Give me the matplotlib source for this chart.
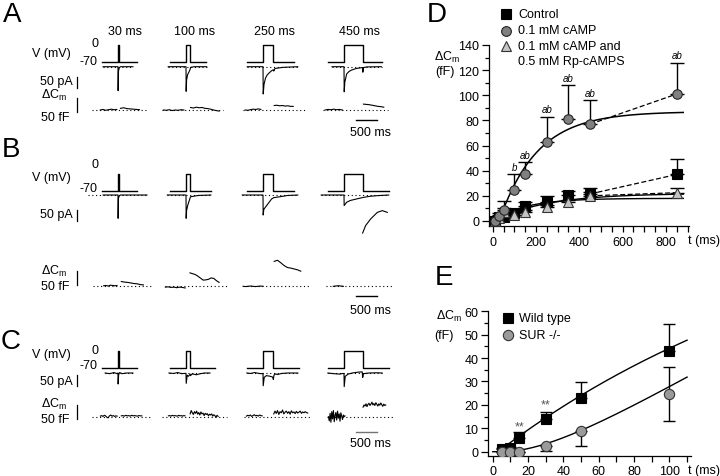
import numpy as np
import matplotlib.pyplot as plt
from matplotlib.ticker import MultipleLocator, FuncFormatter

plt.rcParams['font.family'] = ['Liberation Sans', 'DejaVu Sans']
plt.rcParams['mathtext.fontset'] = 'custom'
plt.rcParams['mathtext.rm'] = 'Liberation Sans'
plt.rcParams['mathtext.it'] = 'Liberation Sans:italic'

# ---------------- panels A-C: example traces (t in ms from pulse onset) ----------------
pulse_ms = [30, 100, 250, 450]
pulse_labels = ['30 ms', '100 ms', '250 ms', '450 ms']
v_hold, v_step = -70, 0

# membrane current (t ms, I pA)
current_A = [
    ([-360, 0, 3, 12, 30, 60, 360], [0, 0, -109, -20, -5, 0, 0]),
    ([-430, 0, 4, 15, 40, 70, 100, 110, 200, 500], [0, 0, -112, -60, -35, -25, -12, -3, 0, 0]),
    ([-380, 0, 5, 25, 60, 100, 150, 210, 250, 260, 290, 480, 840],
     [0, 0, -124, -80, -52, -38, -28, -18, -14, -20, -8, -3, 0]),
    ([-290, 0, 5, 20, 64, 120, 184, 300, 440, 450, 455, 470, 550, 900],
     [0, 0, -114, -70, -33, -22, -15, -8, -4, -4, -25, -4, -1, 0]),
]
current_B = [
    ([-360, 0, 3, 12, 30, 60, 700], [0, 0, -106, -15, -4, 0, 0]),
    ([-450, 0, 4, 15, 40, 96, 110, 300, 600], [0, 0, -106, -70, -48, -15, -8, -2, 0]),
    ([-500, 0, 4, 20, 88, 208, 260, 408, 600, 840], [0, 0, -91, -65, -48, -18, -12, -8, -2, 0]),
    ([-550, 0, 4, 64, 150, 304, 464, 624, 800, 1080], [0, 0, -48, -33, -25, -18, -11, -6, -3, 0]),
]
current_B_extra_t = [450, 522, 643, 805, 926, 1046]
current_B_extra_i = [-173, -139, -109, -79, -71, -79]
current_C = [
    ([-310, -200, -100, -20, 0, 3, 15, 40, 100, 200, 360], [0, -3, 2, -3, 0, -50, -8, 2, -3, 0, 0]),
    ([-410, -300, -200, -100, -50, 0, 5, 30, 60, 100, 110, 150, 250, 350, 450, 580],
     [0, -2, 2, -3, -2, -2, -47, -10, -15, -5, -12, -4, -8, -3, 0, 0]),
    ([-390, -300, -200, -100, -30, 0, 5, 30, 80, 150, 230, 250, 265, 300, 350, 450, 600, 840],
     [0, -2, 2, -2, -3, -2, -58, -20, -12, -14, -18, -30, -10, -4, -7, -2, 0, 0]),
    ([-390, -250, -100, -30, 0, 5, 30, 100, 200, 350, 440, 452, 470, 600, 800, 920],
     [0, -3, -5, -2, -3, -62, -15, -5, 0, 4, 5, -20, -3, 0, 1, 0]),
]

# capacitance change (t_start, t_end, fF samples) before and after the pulse
cm_A = [
    ((-430, -30, [0, 2, -1, 1, 3, 1, 2]), (60, 520, [6, 8, 5, 4, 3, 2, 1])),
    ((-545, -50, [0, -1, 1, -2, 0, -1, 1, 0]), (110, 800, [9, 7, 10, 8, 9, 6, 5, 3, 0, -2, -4])),
    ((-430, -50, [0, -1, 1, 3, 2, 4, 2]), (270, 730, [16, 17, 15, 16, 14, 15, 13, 13])),
    ((-456, -40, [0, 2, 1, 3, 1, 2, 0]), (470, 960, [21, 20, 19, 17, 15, 13, 12, 10])),
]
cm_B = [
    ((-346, -24, [2, 3, 1, 4, 3, 2, 3]), (80, 614, [17, 15, 14, 12, 10, 9, 6, 5])),
    ((-500, -20, [-3, -2, -4, -3, -5, -3, -4, -6]),
     (96, 800, [48, 45, 42, 36, 29, 22, 23, 25, 30, 28, 20, 14])),
    ((-480, 0, [0, -1, 0, 1, 0, -1, 0, 1, 0]), (270, 912, [89, 93, 84, 74, 67, 65, 62, 59, 54])),
    ((-260, -16, [0, 1, 2, 1, 0]), None),
]
cm_C = [
    ((-425, -20, [2, 4, 1, 5, 3, -2, -4, 3, 6, 2, 4, 1, 3, 2]),
     (80, 576, [3, 4, 2, 5, 3, 4, 2, 5, 3, 4, 3, 2, 4, 3, 3])),
    ((-425, -24, [3, 4, 2, 5, 3, 4, 3, 2, 5, 3, 4, 2, 4, 3]),
     (100, 776, [10, 22, 14, 8, 18, 12, 20, 9, 15, 6, 17, 10, 13, 4, 12, 8, 11, 3, 9, 6, 10, 2, 7, 4, -2, 5, 1])),
    ((-400, -20, [2, 5, 3, 6, 1, 4, 7, 3, 5, 2, 6, 4, 3]),
     (260, 1080, [10, 20, 12, 22, 8, 18, 14, 24, 10, 16, 20, 12, 18, 9, 21, 14, 17, 11, 19, 13, 16, 20, 12, 17, 14, 18, 15, 13])),
    ((-376, 24, [0, -15, 12, -20, 18, -8, 22, -18, 5, 15, -12, 20, -5, 10, -16, 14, 2, -10, 6, 0, 3]),
     (460, 1008, [34, 42, 38, 46, 36, 44, 48, 40, 45, 52, 42, 47, 40, 50, 44, 38, 46, 41, 49, 43, 37, 45, 40, 42])),
]

# ---------------- panel D ----------------
d_t = [10, 30, 50, 100, 150, 250, 350, 450, 850]
d_control = [0, 3, 3, 6, 12, 15, 21, 21.5, 37]
d_control_err = [1, 2, 3, 3, 3, 5, 3, 4.5, 12.5]
d_camp = [0, 4, 9, 25, 37, 63, 81, 77, 101]
d_camp_err = [1, 2, 7, 12, 10, 20, 27, 19, 25]
d_camp_sig = ['', '', '', 'b', 'ab', 'ab', 'ab', 'ab', 'ab']
d_rp = [0, 2, 7, 5, 7, 11, 15, 20, 22.5]
d_rp_err = [1, 1, 3, 2, 2, 2, 2, 3, 3.5]
# exponential fits: amplitude (fF), delay (ms), tau (ms)
fit_camp = (87, 30, 175)
fit_control = (18, 0, 150)
fit_rp = (22, 0, 250)

# ---------------- panel E ----------------
e_t = [5, 10, 15, 30, 50, 100]
e_wt = [1, 1.5, 5.7, 14, 22.8, 43.2]
e_wt_err = [0.5, 0.5, 2.6, 3, 7.1, 11.4]
e_sur = [0, 0, 0, 2.5, 9, 24.5]
e_sur_err_lo = [0.3, 0.3, 0.3, 2, 6.7, 11.5]
e_sur_err_hi = [0, 0, 0, 0, 0, 11.5]
e_stars_t = [15, 30]
e_stars_y = [11, 20.4]
fit_wt = (115, 3, 200)         # amplitude, delay, tau (saturating)
fit_sur = (0.42, 5, 30)        # slope, delay, tau (ramp with lag)

# ---------------- scales / layout (pixels) ----------------
PX_MS = 20.7 / 500
PX_MV = 17 / 70
PX_PA = 11 / 50
PX_FF = 14 / 50
X_ONSET = [118, 186, 263, 344]
V_PRE = -16

LAYOUT = {
    'A': dict(letter=(12, 15), v_base=62.7, i_base=67.7, cm_base=111,
              v_end=[19, 20, 31, 38], i_dots=[(-15, 15), (-18, 21), (-16, 35), (-12, 38)],
              cm_dots=[(-26, 30), (-24, 37), (-20, 42), (-21, 44)],
              v_lab=54, zero_lab=44, m70_lab=62, pa_lab=82, pa_bar=83.5,
              dcm_lab=95, ff_lab=118, ff_bar=106, sb_y=121, sb_lab=133, sb_col='k'),
    'B': dict(letter=(11, 150), v_base=191.7, i_base=196, cm_base=287.3,
              v_end=[19, 25, 31, 45], i_dots=[(-30, 29), (-19, 25), (-21, 35), (-23, 45)],
              cm_dots=[(-25, 34), (-21, 41), (-20, 47), (-18, 49)],
              v_lab=178, zero_lab=165, m70_lab=189, pa_lab=215, pa_bar=216,
              dcm_lab=271, ff_lab=287, ff_bar=279, sb_y=296.7, sb_lab=311, sb_col='k'),
    'C': dict(letter=(11, 342), v_base=369, i_base=374, cm_base=417.7,
              v_end=[19, 29, 36, 45], i_dots=[(-13, 15), (-17, 24), (-16, 35), (-16, 38)],
              cm_dots=[(-26, 32), (-24, 41), (-19, 47), (-17, 49)],
              v_lab=355, zero_lab=351, m70_lab=366, pa_lab=381.7, pa_bar=381.7,
              dcm_lab=404, ff_lab=420, ff_bar=413, sb_y=432.7, sb_lab=444, sb_col='0.45'),
}
TRACES = {'A': (current_A, cm_A), 'B': (current_B, cm_B), 'C': (current_C, cm_C)}

FS = 9
DCM = 'ΔC$_\\mathregular{m}$'
DOTS = (0, (1.0, 2.4))

fig = plt.figure(figsize=(7.2, 4.77), dpi=100)
cv = fig.add_axes([0, 0, 1, 1])
cv.set_xlim(0, 720)
cv.set_ylim(477, 0)
cv.axis('off')


def xpos(col, t):
    return X_ONSET[col] + np.asarray(t, float) * PX_MS


for name, lay in LAYOUT.items():
    currents, cms = TRACES[name]
    cv.text(*lay['letter'], name, fontsize=20, ha='center', va='center')
    # left-hand labels and scale bars
    cv.text(71, lay['v_lab'], 'V (mV)', fontsize=FS, ha='right', va='center')
    cv.text(95, lay['zero_lab'], '0', fontsize=FS, ha='center', va='center')
    cv.text(98, lay['m70_lab'], '-70', fontsize=FS, ha='right', va='center')
    cv.text(73, lay['pa_lab'], '50 pA', fontsize=FS, ha='right', va='center')
    cv.plot([77, 77], [lay['pa_bar'] - 25 * PX_PA, lay['pa_bar'] + 25 * PX_PA], color='k', lw=0.9)
    cv.text(54, lay['dcm_lab'], DCM, fontsize=FS, ha='center', va='center')
    cv.text(55, lay['ff_lab'], '50 fF', fontsize=FS, ha='center', va='center')
    cv.plot([77, 77], [lay['ff_bar'] - 25 * PX_FF, lay['ff_bar'] + 25 * PX_FF], color='k', lw=0.9)
    cv.plot([356, 356 + 500 * PX_MS], [lay['sb_y']] * 2, color=lay['sb_col'], lw=1.0)
    cv.text(370, lay['sb_lab'], '500 ms', fontsize=FS, ha='center', va='center')

    for c, dur in enumerate(pulse_ms):
        x0 = X_ONSET[c]
        # voltage protocol
        vx = [x0 + V_PRE, x0, x0, xpos(c, dur), xpos(c, dur), x0 + lay['v_end'][c]]
        vv = np.array([v_hold, v_hold, v_step, v_step, v_hold, v_hold])
        cv.plot(vx, lay['v_base'] - (vv - v_hold) * PX_MV, color='k', lw=1.0)
        # current
        a, b = lay['i_dots'][c]
        cv.plot([x0 + a, x0 + b], [lay['i_base']] * 2, color='k', lw=0.8, ls=DOTS)
        ti, ii = currents[c]
        cv.plot(xpos(c, ti), lay['i_base'] - np.asarray(ii, float) * PX_PA, color='k', lw=0.8)
        # capacitance
        a, b = lay['cm_dots'][c]
        cv.plot([x0 + a, x0 + b], [lay['cm_base']] * 2, color='k', lw=0.8, ls=DOTS)
        for seg in cms[c]:
            if seg is None:
                continue
            t0, t1, vals = seg
            tt = np.linspace(t0, t1, len(vals))
            cv.plot(xpos(c, tt), lay['cm_base'] - np.asarray(vals, float) * PX_FF, color='k', lw=0.8)
        if name == 'B' and c == 3:
            cv.plot(xpos(c, current_B_extra_t),
                    lay['i_base'] - np.asarray(current_B_extra_i, float) * PX_PA, color='k', lw=0.8)

for c, lab in enumerate(pulse_labels):
    cv.text(xpos(c, pulse_ms[c] / 2) + 6, 32, lab, fontsize=FS, ha='center', va='center')

# ---------------- panel D ----------------
SQ = dict(marker='s', mfc='k', mec='k')
CI = dict(marker='o', mfc='#808080', mec='#222222')
TR = dict(marker='^', mfc='#c4c4c4', mec='#333333')

axD = fig.add_axes([489 / 720, 1 - 227 / 477, 199.7 / 720, 182.3 / 477])
axD.set_facecolor('none')
axD.set_xlim(-17, 905)
axD.set_ylim(-4, 141)

tt = np.linspace(0, 880, 300)
for (amp, t0, tau) in (fit_control, fit_rp):
    axD.plot(tt, amp * (1 - np.exp(-(tt - t0) / tau)), color='k', lw=1.0, zorder=2)
tc = np.linspace(fit_camp[1], 880, 300)
axD.plot(tc, fit_camp[0] * (1 - np.exp(-(tc - fit_camp[1]) / fit_camp[2])), color='k', lw=1.1, zorder=2)
for ys in (d_camp, d_control, d_rp):
    axD.plot([d_t[-2], d_t[-1]], [ys[-2], ys[-1]], color='k', lw=0.9, ls=(0, (4, 2)), zorder=2)

zero = [0] * len(d_t)
for ys, err, st in ((d_control, d_control_err, SQ), (d_rp, d_rp_err, TR), (d_camp, d_camp_err, CI)):
    axD.errorbar(d_t, ys, yerr=[zero, err], fmt='none', ecolor='k', elinewidth=1.0, capsize=5,
                 capthick=1.0, zorder=3)
    axD.plot(d_t, ys, ls='none', ms=6.8, mew=0.8, zorder=4, **st)
for t, y, e, s in zip(d_t, d_camp, d_camp_err, d_camp_sig):
    if s:
        axD.text(t, y + e + 5.8, s, fontsize=7, style='italic', ha='center', va='center')

for sp in ('top', 'right'):
    axD.spines[sp].set_visible(False)
axD.spines['left'].set_bounds(-4, 140)
axD.xaxis.set_major_locator(MultipleLocator(50))
axD.xaxis.set_major_formatter(FuncFormatter(lambda v, p: f'{v:.0f}' if v % 200 == 0 and v <= 800 else ''))
axD.yaxis.set_major_locator(MultipleLocator(20))
axD.yaxis.set_minor_locator(MultipleLocator(10))
axD.tick_params(axis='x', length=4, width=0.9, pad=3, labelsize=FS)
axD.tick_params(axis='y', which='major', length=5, width=0.9, pad=2, labelsize=FS)
axD.tick_params(axis='y', which='minor', length=3, width=0.9)
for sp in axD.spines.values():
    sp.set_linewidth(0.9)

cv.text(447, 57, DCM, fontsize=FS, ha='center', va='center')
cv.text(445, 72, '(fF)', fontsize=FS, ha='center', va='center')
cv.text(688, 241, 't (ms)', fontsize=FS, ha='left', va='center')
cv.text(437, 15, 'D', fontsize=20, ha='center', va='center')
for st, y in ((SQ, 15), (CI, 32), (TR, 47)):
    cv.plot([506], [y], ls='none', ms=7, mew=0.8, **st)
for txt, y in (('Control', 15), ('0.1 mM cAMP', 31), ('0.1 mM cAMP and', 47), ('0.5 mM Rp-cAMPS', 62)):
    cv.text(518, y, txt, fontsize=FS, ha='left', va='center')

# ---------------- panel E ----------------
CI_E = dict(marker='o', mfc='#9a9a9a', mec='#333333')
axE = fig.add_axes([488 / 720, 1 - 456.7 / 477, 202.6 / 720, 145.6 / 477])
axE.set_facecolor('none')
axE.set_xlim(-2.7, 112)
axE.set_ylim(-1.7, 60.5)

amp, t0, tau = fit_wt
tw = np.linspace(t0, 110, 200)
axE.plot(tw, amp * (1 - np.exp(-(tw - t0) / tau)), color='k', lw=1.0, zorder=2)
slope, t0, tau = fit_sur
ts = np.linspace(0, 110, 200)
s = np.clip(ts - t0, 0, None)
axE.plot(ts, slope * (s - tau * (1 - np.exp(-s / tau))), color='k', lw=1.0, zorder=2)

zero = [0] * len(e_t)
axE.errorbar(e_t, e_wt, yerr=[zero, e_wt_err], fmt='none', ecolor='k', elinewidth=1.0,
             capsize=4, capthick=1.0, zorder=3)
axE.errorbar(e_t, e_sur, yerr=[e_sur_err_lo, e_sur_err_hi], fmt='none', ecolor='k', elinewidth=1.0,
             capsize=4, capthick=1.0, zorder=3)
axE.plot(e_t, e_wt, ls='none', ms=7.2, mew=0.8, zorder=4, **SQ)
axE.plot(e_t, e_sur, ls='none', ms=7.4, mew=0.8, zorder=4, **CI_E)
for t, y in zip(e_stars_t, e_stars_y):
    axE.text(t, y, '**', fontsize=9, color='#555555', ha='center', va='center')

for sp in ('top', 'right'):
    axE.spines[sp].set_visible(False)
axE.spines['left'].set_bounds(-1.7, 60)
axE.xaxis.set_major_locator(MultipleLocator(10))
axE.xaxis.set_major_formatter(FuncFormatter(lambda v, p: f'{v:.0f}' if v % 20 == 0 and v <= 100 else ''))
axE.yaxis.set_major_locator(MultipleLocator(10))
axE.yaxis.set_minor_locator(MultipleLocator(5))
axE.tick_params(axis='x', length=4, width=0.9, pad=3, labelsize=FS)
axE.tick_params(axis='y', which='major', length=5, width=0.9, pad=2, labelsize=FS)
axE.tick_params(axis='y', which='minor', length=3, width=0.9)
for sp in axE.spines.values():
    sp.set_linewidth(0.9)

cv.text(449, 316, DCM, fontsize=FS, ha='center', va='center')
cv.text(444, 336, '(fF)', fontsize=FS, ha='center', va='center')
cv.text(688, 471, 't (ms)', fontsize=FS, ha='left', va='center')
cv.text(444, 278, 'E', fontsize=20, ha='center', va='center')
cv.plot([508], [319], ls='none', ms=7, mew=0.8, **SQ)
cv.plot([508], [336], ls='none', ms=7.4, mew=0.8, **CI_E)
cv.text(519, 319, 'Wild type', fontsize=FS, ha='left', va='center')
cv.text(519, 336, 'SUR -/-', fontsize=FS, ha='left', va='center')

fig.savefig('out.png', dpi=100)
